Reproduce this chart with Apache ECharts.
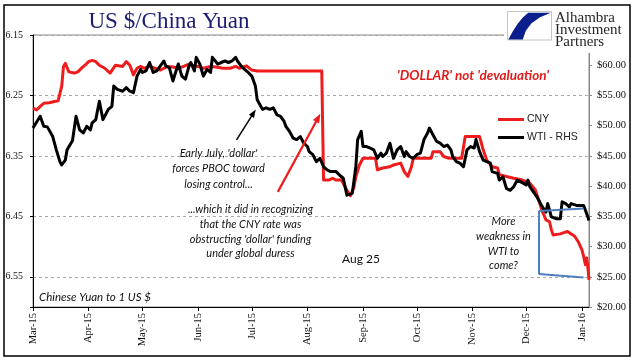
<!DOCTYPE html>
<html><head><meta charset="utf-8">
<script src="https://cdn.jsdelivr.net/npm/echarts@6/dist/echarts.min.js"></script>
<style>html,body{margin:0;padding:0;background:#fff}#c{width:641px;height:361px}</style>
</head><body><div id="c"></div>
<script>
// ---- data ----
const xStart = '2015-03-01';
const xEnd = '2016-01-05';
const monthAbbr = ['Jan','Feb','Mar','Apr','May','Jun','Jul','Aug','Sep','Oct','Nov','Dec'];
const xTickLabels = ['Mar-15','Apr-15','May-15','Jun-15','Jul-15','Aug-15','Sep-15','Oct-15','Nov-15','Dec-15','Jan-16'];
const cnyLeftTicks = [6.15, 6.25, 6.35, 6.45, 6.55];
const wtiRightTicks = [20, 25, 30, 35, 40, 45, 50, 55, 60];

const cnyDates = ['2015-03-01','2015-03-03','2015-03-05','2015-03-07','2015-03-08','2015-03-10','2015-03-13','2015-03-15','2015-03-16','2015-03-17','2015-03-18','2015-03-19','2015-03-21','2015-03-22','2015-03-24','2015-03-26','2015-03-28','2015-03-30','2015-04-01','2015-04-03','2015-04-05','2015-04-07','2015-04-10','2015-04-13','2015-04-16','2015-04-17','2015-04-20','2015-04-22','2015-04-24','2015-04-26','2015-04-28','2015-04-30','2015-05-02','2015-05-05','2015-05-08','2015-05-11','2015-05-13','2015-05-15','2015-05-18','2015-05-21','2015-05-24','2015-05-27','2015-05-29','2015-06-01','2015-06-04','2015-06-08','2015-06-11','2015-06-15','2015-06-19','2015-06-22','2015-06-24','2015-06-28','2015-07-01','2015-07-04','2015-08-09','2015-08-10','2015-08-11','2015-08-13','2015-08-15','2015-08-17','2015-08-20','2015-08-22','2015-08-24','2015-08-25','2015-08-27','2015-08-28','2015-08-30','2015-09-01','2015-09-05','2015-09-08','2015-09-09','2015-09-12','2015-09-16','2015-09-18','2015-09-22','2015-09-24','2015-09-26','2015-09-28','2015-09-29','2015-10-03','2015-10-07','2015-10-09','2015-10-10','2015-10-14','2015-10-16','2015-10-19','2015-10-23','2015-10-26','2015-10-28','2015-10-31','2015-11-05','2015-11-07','2015-11-09','2015-11-12','2015-11-15','2015-11-16','2015-11-20','2015-11-24','2015-11-29','2015-12-03','2015-12-06','2015-12-08','2015-12-10','2015-12-12','2015-12-14','2015-12-15','2015-12-16','2015-12-20','2015-12-24','2015-12-25','2015-12-28','2015-12-30','2016-01-01','2016-01-02','2016-01-03','2016-01-03 18:00','2016-01-04 12:00','2016-01-05'];
const cnyValues = [6.271,6.274,6.268,6.263,6.264,6.262,6.260,6.259,6.262,6.235,6.202,6.197,6.211,6.208,6.213,6.211,6.205,6.200,6.194,6.192,6.194,6.200,6.205,6.213,6.200,6.197,6.202,6.194,6.200,6.216,6.205,6.202,6.205,6.202,6.205,6.208,6.205,6.202,6.203,6.205,6.202,6.198,6.200,6.202,6.205,6.202,6.203,6.205,6.205,6.202,6.205,6.201,6.208,6.2095,6.2095,6.390,6.387,6.390,6.387,6.390,6.390,6.401,6.412,6.416,6.401,6.384,6.365,6.354,6.354,6.354,6.373,6.370,6.368,6.365,6.362,6.376,6.384,6.368,6.354,6.354,6.354,6.354,6.343,6.343,6.351,6.354,6.354,6.354,6.318,6.318,6.318,6.340,6.357,6.368,6.370,6.381,6.384,6.387,6.390,6.395,6.406,6.423,6.442,6.456,6.459,6.472,6.481,6.479,6.475,6.478,6.483,6.492,6.505,6.516,6.530,6.519,6.538,6.555];

const wtiDates = ['2015-03-01','2015-03-05','2015-03-07','2015-03-09','2015-03-10','2015-03-12','2015-03-14','2015-03-16','2015-03-17','2015-03-19','2015-03-20','2015-03-21','2015-03-23','2015-03-25','2015-03-27','2015-03-29','2015-03-31','2015-04-02','2015-04-03','2015-04-05','2015-04-07','2015-04-09','2015-04-12','2015-04-14','2015-04-15','2015-04-17','2015-04-18','2015-04-20','2015-04-22','2015-04-24','2015-04-26','2015-04-28','2015-04-30','2015-05-01','2015-05-03','2015-05-05','2015-05-07','2015-05-09','2015-05-11','2015-05-13','2015-05-14','2015-05-16','2015-05-18','2015-05-20','2015-05-21','2015-05-23','2015-05-25','2015-05-27','2015-05-28','2015-05-30','2015-05-31','2015-06-02','2015-06-04','2015-06-06','2015-06-08','2015-06-09','2015-06-10','2015-06-12','2015-06-14','2015-06-16','2015-06-18','2015-06-20','2015-06-22','2015-06-23','2015-06-25','2015-06-27','2015-06-29','2015-07-01','2015-07-03','2015-07-04','2015-07-06','2015-07-07','2015-07-09','2015-07-11','2015-07-13','2015-07-15','2015-07-17','2015-07-19','2015-07-20','2015-07-22','2015-07-24','2015-07-26','2015-07-28','2015-07-30','2015-08-01','2015-08-02','2015-08-04','2015-08-06','2015-08-08','2015-08-10','2015-08-12','2015-08-14','2015-08-15','2015-08-17','2015-08-19','2015-08-21','2015-08-23','2015-08-24','2015-08-26','2015-08-28','2015-08-29','2015-08-31','2015-09-01','2015-09-03','2015-09-05','2015-09-07','2015-09-09','2015-09-11','2015-09-12','2015-09-14','2015-09-16','2015-09-18','2015-09-20','2015-09-22','2015-09-24','2015-09-25','2015-09-27','2015-09-29','2015-10-01','2015-10-03','2015-10-05','2015-10-07','2015-10-08','2015-10-10','2015-10-12','2015-10-14','2015-10-16','2015-10-18','2015-10-20','2015-10-21','2015-10-23','2015-10-25','2015-10-27','2015-10-29','2015-10-31','2015-11-02','2015-11-03','2015-11-05','2015-11-07','2015-11-09','2015-11-11','2015-11-12','2015-11-15','2015-11-16','2015-11-18','2015-11-20','2015-11-22','2015-11-24','2015-11-26','2015-11-28','2015-11-29','2015-12-01','2015-12-02','2015-12-03','2015-12-05','2015-12-07','2015-12-10','2015-12-12','2015-12-13','2015-12-15','2015-12-18','2015-12-20','2015-12-21','2015-12-23','2015-12-25','2015-12-26','2015-12-29','2016-01-02','2016-01-03','2016-01-04','2016-01-05'];
const wtiValues = [49.6,51.55,49.9,49.8,49.5,48.2,46.0,44.05,43.5,44.3,46.0,46.5,47.5,51.55,49.3,48.8,49.9,49.3,50.45,51.0,54.05,51.0,52.7,53.2,56.55,56.0,56.3,55.7,56.3,55.7,55.45,58.2,59.3,58.8,59.05,60.45,58.8,59.05,59.9,60.7,59.9,59.6,57.4,59.3,60.2,58.2,57.7,59.9,60.45,59.05,61.3,60.2,58.2,59.3,58.8,61.3,61.55,60.2,60.45,60.7,60.45,60.7,61.3,60.7,59.9,59.3,58.8,58.2,56.55,54.3,53.2,52.7,52.95,52.7,52.95,51.8,51.55,50.7,49.9,49.05,47.95,47.7,48.2,47.1,46.55,45.7,45.2,44.05,44.6,43.2,42.7,42.4,42.1,42.4,41.8,41.3,38.5,38.2,38.8,43.2,47.7,49.05,46.55,46.55,46.3,46.0,44.6,45.45,44.9,45.45,47.1,44.6,46.0,46.55,44.9,45.7,44.9,44.6,45.2,45.45,47.7,48.8,49.6,48.5,47.4,47.1,46.55,46.8,46.0,44.9,44.05,43.8,43.2,46.0,46.55,46.3,47.7,45.7,44.3,44.05,43.8,42.4,42.1,41.0,41.55,39.6,39.3,39.9,41.0,40.7,40.45,40.2,41.0,39.9,39.05,38.2,36.55,35.7,37.1,34.9,34.6,34.6,37.4,37.1,36.55,37.1,36.8,36.8,36.0,35.2,34.3];

// annotation anchors (data coordinates)
const blackArrow = [['2015-06-22 12:00', 6.3236], ['2015-07-02', 6.279]];
const redArrow = [['2015-07-15 12:00', 6.4095], ['2015-08-07', 6.287]];
const bracketV = [['2015-12-08', 35.9], ['2015-12-08', 25.45]];
const bracketTop = [['2015-12-08', 35.9], ['2016-01-02', 36.3]];
const bracketBottom = [['2015-12-08', 25.45], ['2016-01-02', 24.9]];

// ---- helpers ----
function ts(s) {
  const parts = s.split(' ');
  const [Y, M, D] = parts[0].split('-').map(Number);
  const h = parts[1] ? Number(parts[1].split(':')[0]) : 0;
  return new Date(Y, M - 1, D, h).getTime();
}
const pt = p => [ts(p[0]), p[1]];

const RED = '#ee1c1c';
const BLUE = '#4f7fbf';
const chart = echarts.init(document.getElementById('c'), null, { renderer: 'canvas' });

const annFont = 'Lato';
const option = {
  animation: false,
  grid: { left: 33, right: 52, top: 35, bottom: 54, show: true, borderColor: '#888', borderWidth: 1, backgroundColor: 'transparent' },
  legend: {
    orient: 'vertical', left: 498, top: 114, padding: 0, itemWidth: 26, itemHeight: 3, itemGap: 7, icon: 'rect',
    textStyle: { fontFamily: 'Liberation Sans', fontSize: 10.5, color: '#222', padding: [0, 0, 0, -2] },
    data: ['CNY', 'WTI - RHS']
  },
  xAxis: {
    type: 'time', min: ts(xStart), max: ts(xEnd),
    splitNumber: 10, minInterval: 28 * 864e5, maxInterval: 31 * 864e5,
    axisLine: { show: true, lineStyle: { color: '#000', width: 1 } },
    axisTick: { show: true, length: 4, lineStyle: { color: '#000' } },
    splitLine: { show: false },
    axisLabel: {
      rotate: 90, fontFamily: 'Liberation Serif', fontSize: 10.5, color: '#111', margin: 6,
      hideOverlap: false, showMaxLabel: false,
      formatter: function (v) {
        const d = new Date(v);
        if (d.getDate() !== 1 || d.getHours() !== 0) return '';
        const lbl = monthAbbr[d.getMonth()] + '-' + String(d.getFullYear()).slice(2);
        return xTickLabels.indexOf(lbl) >= 0 ? lbl : '';
      }
    }
  },
  yAxis: [
    {
      type: 'value', inverse: true, min: 6.15, max: 6.6, interval: 0.1, position: 'left',
      axisLine: { show: true, onZero: false, lineStyle: { color: '#000' } },
      axisTick: { show: true, length: 3, lineStyle: { color: '#000' } },
      axisLabel: {
        fontFamily: 'Liberation Serif', fontSize: 10, color: '#111', margin: 10,
        formatter: v => cnyLeftTicks.some(t => Math.abs(t - v) < 1e-6) ? v.toFixed(2) : ''
      },
      splitLine: { show: true, lineStyle: { color: '#a8a8a8', type: [3, 3], width: 1 } }
    },
    {
      type: 'value', min: 20, max: 65, interval: 5, position: 'right',
      axisLine: { show: true, onZero: false, lineStyle: { color: '#888' } },
      axisTick: { show: true, length: 3, lineStyle: { color: '#888' } },
      axisLabel: {
        fontFamily: 'Liberation Serif', fontSize: 10.5, color: '#111', margin: 8,
        formatter: v => wtiRightTicks.indexOf(v) >= 0 ? '$' + v.toFixed(2) : ''
      },
      splitLine: { show: false }
    }
  ],
  series: [
    {
      name: 'CNY', type: 'line', yAxisIndex: 0, showSymbol: false, symbol: 'none',
      data: cnyDates.map((d, i) => [ts(d), cnyValues[i]]),
      lineStyle: { color: RED, width: 3, join: 'round' }, itemStyle: { color: RED },
      markLine: {
        silent: true, animation: false, label: { show: false },
        symbol: ['none', 'triangle'],
        data: [
          [{ coord: pt(blackArrow[0]), lineStyle: { color: '#000', width: 1.5, type: 'solid' }, symbol: 'none' },
           { coord: pt(blackArrow[1]), symbol: 'triangle', symbolSize: [6, 8], itemStyle: { color: '#000' } }],
          [{ coord: pt(redArrow[0]), lineStyle: { color: RED, width: 2.2, type: 'solid' }, symbol: 'none' },
           { coord: pt(redArrow[1]), symbol: 'triangle', symbolSize: [7, 9], itemStyle: { color: RED } }]
        ]
      }
    },
    {
      name: 'WTI - RHS', type: 'line', yAxisIndex: 1, showSymbol: false, symbol: 'none',
      data: wtiDates.map((d, i) => [ts(d), wtiValues[i]]),
      lineStyle: { color: '#000', width: 3, join: 'round' }, itemStyle: { color: '#000' },
      markLine: {
        silent: true, animation: false, label: { show: false }, symbol: ['none', 'none'],
        lineStyle: { color: BLUE, width: 2, type: 'solid' },
        data: [
          [{ coord: pt(bracketV[0]) }, { coord: pt(bracketV[1]) }],
          [{ coord: pt(bracketTop[0]), lineStyle: { curveness: 0.06, color: BLUE, width: 2, type: 'solid' } }, { coord: pt(bracketTop[1]) }],
          [{ coord: pt(bracketBottom[0]), lineStyle: { curveness: -0.07, color: BLUE, width: 2, type: 'solid' } }, { coord: pt(bracketBottom[1]) }]
        ]
      }
    }
  ],
  graphic: [
    { type: 'rect', z: 100, shape: { x: 504, y: 6, width: 125, height: 47 }, style: { fill: '#fff' } },
    { type: 'rect', z: 101, shape: { x: 507.5, y: 11.5, width: 44, height: 28.5 }, style: { fill: '#fff', stroke: '#c4c4c4', lineWidth: 1 } },
    { type: 'polygon', z: 102, shape: { points: [[528.2,12.8],[550.8,12.8],[539.6,17.5],[531.3,23.5],[525.8,30.8],[522.8,39.4],[508.3,39.4],[512.7,31.4],[517.5,24.0],[522.6,17.7]] }, style: { fill: '#0b1f8c' } },
    { type: 'text', z: 102, x: 555, y: 12.5, style: { text: 'Alhambra\nInvestment\nPartners', fontFamily: 'Liberation Serif', fontSize: 15, lineHeight: 11.8, fill: '#262626', align: 'left', verticalAlign: 'top' } },
    { type: 'rect', z: 103, shape: { x: 4, y: 5, width: 626, height: 351 }, style: { fill: 'none', stroke: '#000', lineWidth: 1.5 } },
    { type: 'text', z: 102, x: 169, y: 22, style: { text: 'US $/China Yuan', fontFamily: 'Liberation Serif', fontSize: 23, fill: '#1c1c74', align: 'center', verticalAlign: 'middle' } },
    { type: 'text', z: 102, x: 473, y: 76, style: { text: "'DOLLAR' not 'devaluation'", fontFamily: annFont, fontStyle: 'italic', fontWeight: 'bold', fontSize: 13.5, fill: '#e31b1b', align: 'center', verticalAlign: 'middle' } },
    { type: 'text', z: 102, x: 218.5, y: 145.5, style: { text: "Early July, 'dollar'\nforces PBOC toward\nlosing control...", fontFamily: annFont, fontStyle: 'italic', fontSize: 11, lineHeight: 15.5, fill: '#111', align: 'center', verticalAlign: 'top' } },
    { type: 'text', z: 102, x: 250.5, y: 202.5, style: { text: "...which it did in recognizing\nthat the CNY rate was\nobstructing 'dollar' funding\nunder global duress", fontFamily: annFont, fontStyle: 'italic', fontSize: 11, lineHeight: 14.7, fill: '#111', align: 'center', verticalAlign: 'top' } },
    { type: 'text', z: 102, x: 342, y: 259, style: { text: 'Aug 25', fontFamily: annFont, fontSize: 12, fill: '#111', align: 'left', verticalAlign: 'middle' } },
    { type: 'text', z: 102, x: 503.5, y: 214.3, style: { text: 'More\nweakness in\nWTI to\ncome?', fontFamily: annFont, fontStyle: 'italic', fontSize: 11, lineHeight: 14.7, fill: '#111', align: 'center', verticalAlign: 'top' } },
    { type: 'text', z: 102, x: 39, y: 297, style: { text: 'Chinese Yuan to 1 US $', fontFamily: annFont, fontStyle: 'italic', fontSize: 11.5, fill: '#111', align: 'left', verticalAlign: 'middle' } }
  ]
};
chart.setOption(option);
</script>
</body></html>
